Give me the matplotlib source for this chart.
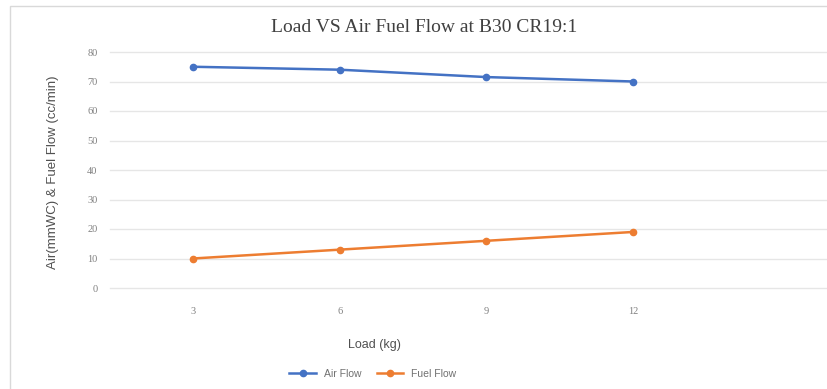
import numpy as np
import matplotlib
matplotlib.use('Agg')
import matplotlib.pyplot as plt
from matplotlib.patches import Rectangle

# data
load = ['3', '6', '9', '12']
air_flow = [75, 74, 71.5, 70]
fuel_flow = [10, 13, 16, 19]
yticks = np.arange(0, 90, 10)

W, H = 828, 389
fig = plt.figure(figsize=(W / 100, H / 100), dpi=100)

# frame round the chart area
frame = Rectangle((10 / W, -0.05), 1.0, 1 - 6 / H + 0.05, transform=fig.transFigure,
                  fill=False, edgecolor='#d9d9d9', linewidth=1.0)
fig.patches.append(frame)

# plot area: left edge 110px, right edge beyond the picture
ax = fig.add_axes([110 / W, 1 - 288 / H, (W - 110) / W, (288 - 52) / H])
x = np.arange(len(load))
ax.plot(x, air_flow, color='#4472C4', linewidth=1.8, marker='o', markersize=4.5, label='Air Flow', zorder=3)
ax.plot(x, fuel_flow, color='#ED7D31', linewidth=1.8, marker='o', markersize=4.5, label='Fuel Flow', zorder=3)

px = 147.0
ax.set_xlim(-(193 - 110) / px, 3 + (W - 633) / px)
ax.set_ylim(0, 80)
ax.set_yticks(yticks)
ax.set_yticklabels([str(v) for v in yticks], fontsize=7.5, color='#808080', family='Liberation Serif')
ax.set_xticks(x)
ax.set_xticklabels(load, fontsize=7.5, color='#808080', family='Liberation Serif')
ax.tick_params(axis='both', length=0)
ax.tick_params(axis='y', pad=9)
ax.tick_params(axis='x', pad=14)
ax.grid(False)
for v in yticks:
    ax.axhline(v, color='#e6e6e6', linewidth=1, clip_on=False, zorder=1)
for s in ax.spines.values():
    s.set_visible(False)

# title and labels
fig.text(424 / W, 1 - 27 / H, 'Load VS Air Fuel Flow at B30 CR19:1', ha='center', va='center',
         fontsize=14, color='#404040', family='Liberation Serif')
fig.text(53 / W, 1 - 172 / H, 'Air(mmWC) & Fuel Flow (cc/min)', ha='center', va='center',
         rotation=90, fontsize=9.5, color='#505050', family='Liberation Sans')
fig.text(374 / W, 1 - 345 / H, 'Load (kg)', ha='center', va='center',
         fontsize=9, color='#505050', family='Liberation Sans')

fig.legend(loc='center', bbox_to_anchor=(373 / W, 1 - 374 / H), ncol=2, frameon=False,
           labelcolor='#707070', handlelength=2.5, columnspacing=1.5,
           prop={'family': 'Liberation Sans', 'size': 7.5})

fig.savefig('out.png', dpi=100, facecolor='white')
